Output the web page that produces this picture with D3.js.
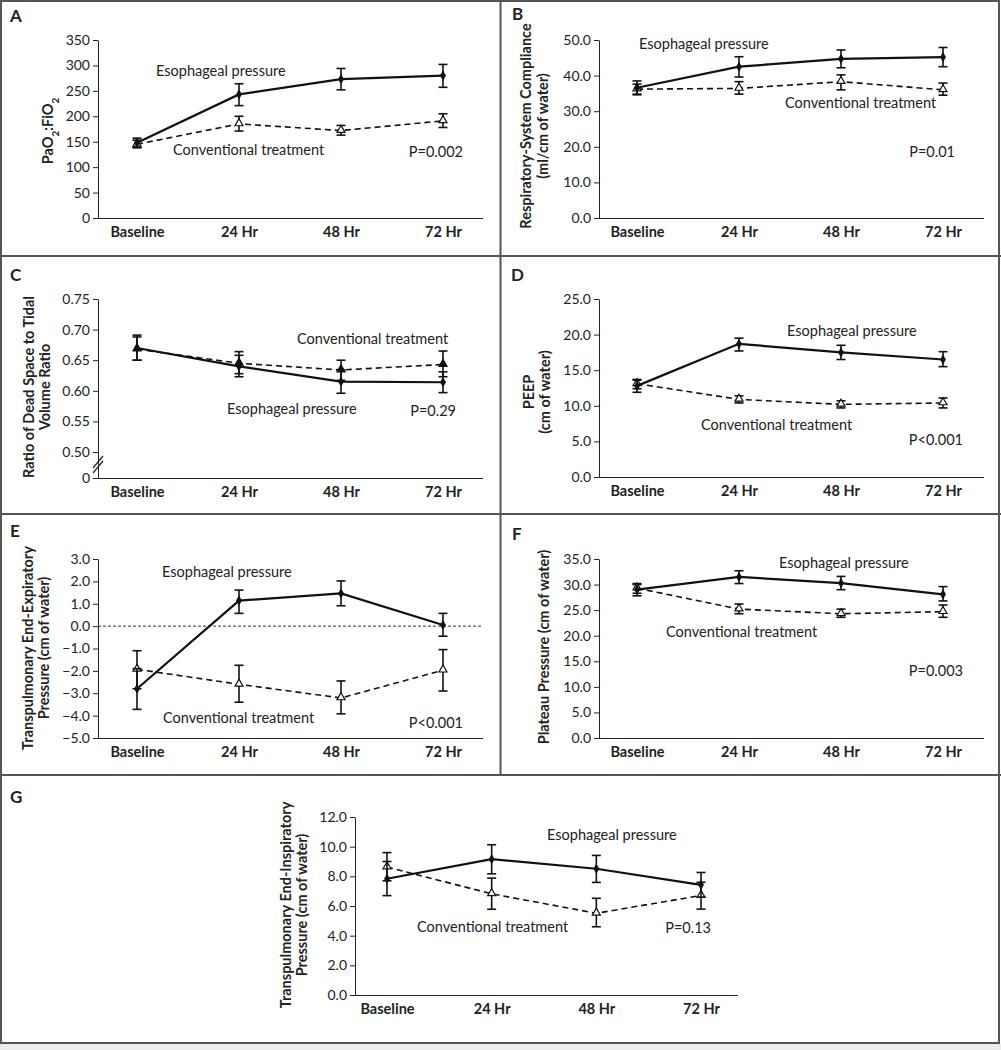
<!DOCTYPE html>
<html>
<head>
<meta charset="utf-8">
<script src="https://cdn.jsdelivr.net/npm/d3@7"></script>
<style>
  body { margin: 0; background: #fff; }
  svg { display: block; font-family: Lato, "Noto Sans", sans-serif; }
</style>
</head>
<body>
<div id="chart"></div>
<script>
var categories = ['Baseline', '24 Hr', '48 Hr', '72 Hr'];

// A - PaO2:FiO2
var pfEso = [148, 243, 273, 280];
var pfEsoLo = [139, 221, 252, 257];
var pfEsoHi = [157, 264, 294, 302];
var pfConv = [145, 185, 172, 191];
var pfConvLo = [138, 171, 163, 178];
var pfConvHi = [153, 200, 182, 205];
var pfTicks = [0, 50, 100, 150, 200, 250, 300, 350];

// B - compliance
var complEso = [36.6, 42.5, 44.7, 45.2];
var complEsoLo = [34.6, 39.6, 42.2, 42.5];
var complEsoHi = [38.5, 45.3, 47.2, 47.9];
var complConv = [36.2, 36.4, 38.3, 36.0];
var complConvLo = [34.8, 34.8, 36.0, 34.5];
var complConvHi = [37.6, 38.3, 40.2, 37.9];
var complTicks = [0, 10, 20, 30, 40, 50];

// C - dead space ratio
var dsEso = [0.670, 0.640, 0.615, 0.614];
var dsEsoLo = [0.650, 0.623, 0.596, 0.597];
var dsEsoHi = [0.691, 0.658, 0.634, 0.631];
var dsConv = [0.668, 0.645, 0.634, 0.643];
var dsConvLo = [0.650, 0.628, 0.617, 0.623];
var dsConvHi = [0.688, 0.664, 0.650, 0.665];
var dsTicks = [0, 0.50, 0.55, 0.60, 0.65, 0.70, 0.75];

// D - PEEP
var peepEso = [12.8, 18.7, 17.5, 16.5];
var peepEsoLo = [11.9, 17.7, 16.5, 15.5];
var peepEsoHi = [13.6, 19.5, 18.5, 17.6];
var peepConv = [13.1, 10.9, 10.2, 10.4];
var peepConvLo = [12.4, 10.4, 9.7, 9.7];
var peepConvHi = [13.7, 11.4, 10.7, 11.1];
var peepTicks = [0, 5, 10, 15, 20, 25];

// E - transpulmonary end-expiratory
var eeEso = [-2.8, 1.14, 1.46, 0.05];
var eeEsoLo = [-3.72, 0.57, 0.91, -0.45];
var eeEsoHi = [-1.9, 1.61, 2.02, 0.57];
var eeConv = [-1.93, -2.6, -3.21, -1.97];
var eeConvLo = [-2.8, -3.4, -3.92, -2.9];
var eeConvHi = [-1.1, -1.75, -2.45, -1.05];
var eeTicks = [-5, -4, -3, -2, -1, 0, 1, 2, 3];

// F - plateau pressure
var platEso = [29.0, 31.5, 30.3, 28.1];
var platEsoLo = [27.8, 30.2, 29.0, 26.8];
var platEsoHi = [30.2, 32.7, 31.6, 29.6];
var platConv = [29.3, 25.2, 24.3, 24.7];
var platConvLo = [28.3, 24.3, 23.6, 23.6];
var platConvHi = [30.0, 26.2, 25.2, 26.0];
var platTicks = [0, 5, 10, 15, 20, 25, 30, 35];

// G - transpulmonary end-inspiratory
var eiEso = [7.84, 9.16, 8.51, 7.43];
var eiEsoLo = [6.7, 8.17, 7.59, 6.6];
var eiEsoHi = [9.0, 10.13, 9.41, 8.26];
var eiConv = [8.63, 6.82, 5.51, 6.71];
var eiConvLo = [7.7, 5.78, 4.6, 5.79];
var eiConvHi = [9.6, 7.88, 6.52, 7.6];
var eiTicks = [0, 2, 4, 6, 8, 10, 12];

var width = 1001, height = 1050;
var svg = d3.select('#chart').append('svg').attr('width', width).attr('height', height);

// frame
svg.append('rect').attr('x', 0).attr('y', 1044).attr('width', width).attr('height', 6).attr('fill', '#ececec');
var frame = svg.append('g').attr('stroke', '#555').attr('stroke-width', 2).attr('fill', 'none');
frame.append('rect').attr('x', 1).attr('y', 1).attr('width', 998).attr('height', 1042);
frame.append('line').attr('x1', 500.5).attr('x2', 500.5).attr('y1', 0).attr('y2', 775);
[256, 514, 775].forEach(function(y) {
    frame.append('line').attr('x1', 0).attr('x2', width).attr('y1', y).attr('y2', y);
});

function rows(vals, lo, hi) {
    return vals.map(function(v, i) { return {cat: categories[i], v: v, lo: lo[i], hi: hi[i]}; });
}

function drawPanel(p) {
    var g = svg.append('g');
    var x = d3.scalePoint().domain(categories).range([p.catLeft, p.catRight]);
    var y = d3.scaleLinear().domain(p.domain).range(p.range);

    g.append('text').attr('x', p.letter[0]).attr('y', p.letter[1])
        .attr('font-size', 17).attr('font-weight', 'bold').attr('fill', '#222').text(p.name);

    var yAxis = d3.axisLeft(y).tickValues(p.ticks).tickSize(5).tickPadding(3).tickSizeOuter(0)
        .tickFormat(p.fmt);
    var yg = g.append('g').attr('transform', 'translate(' + p.axisX + ',0)').call(yAxis)
        .attr('font-family', null).attr('font-size', 14);
    yg.selectAll('line,path').attr('stroke', '#222');
    yg.selectAll('text').attr('fill', '#222');

    var xAxis = d3.axisBottom(x).tickSize(0).tickPadding(9);
    var xg = g.append('g').attr('transform', 'translate(0,' + y(p.domain[0]) + ')').call(xAxis)
        .attr('font-family', null).attr('font-size', 14.5).attr('font-weight', 'bold');
    xg.select('.domain').attr('d', 'M' + p.axisX + ',0.5H' + p.axisRight).attr('stroke', '#222');
    xg.selectAll('text').attr('fill', '#222');

    if (p.zeroLine) {
        g.append('line').attr('x1', p.axisX).attr('x2', p.axisRight)
            .attr('y1', y(0)).attr('y2', y(0))
            .attr('stroke', '#333').attr('stroke-width', 1).attr('stroke-dasharray', '3,2');
    }
    if (p.axisBreak) {
        var yb = (y(0) + y(0.5)) / 2;
        [-3, 2].forEach(function(o) {
            g.append('line').attr('x1', p.axisX - 5).attr('x2', p.axisX + 5)
                .attr('y1', yb + o + 6).attr('y2', yb + o - 6)
                .attr('stroke', '#222').attr('stroke-width', 1.2);
        });
    }

    // y label
    var lab = g.append('text').attr('transform', 'translate(0,' + p.labelY + ') rotate(-90)')
        .attr('text-anchor', 'middle').attr('font-weight', 'bold').attr('font-size', 14.5).attr('fill', '#222');
    p.label.forEach(function(line, i) {
        var t = lab.append('tspan').attr('x', 0).attr('y', p.labelX[i]);
        if (typeof line === 'string') t.text(line);
        else line.forEach(function(part) {
            var s = t.append('tspan').text(part[0]);
            if (part[1]) s.attr('baseline-shift', 'sub').attr('font-size', 10);
        });
    });

    var line = d3.line().x(function(d) { return x(d.cat); }).y(function(d) { return y(d.v); });
    var series = [
        {data: rows(p.conv, p.convLo, p.convHi), dash: '6,4', width: 1.6, kind: 'conv'},
        {data: rows(p.eso, p.esoLo, p.esoHi), dash: null, width: 2.2, kind: 'eso'}
    ];
    series.forEach(function(s) {
        g.append('path').datum(s.data).attr('d', line).attr('fill', 'none')
            .attr('stroke', '#111').attr('stroke-width', s.width)
            .attr('stroke-dasharray', s.dash);
        var eb = g.append('g').attr('stroke', '#111').attr('stroke-width', 1.6);
        eb.selectAll('.v').data(s.data).enter().append('line')
            .attr('x1', function(d) { return x(d.cat); }).attr('x2', function(d) { return x(d.cat); })
            .attr('y1', function(d) { return y(d.lo); }).attr('y2', function(d) { return y(d.hi); });
        ['lo', 'hi'].forEach(function(k) {
            eb.selectAll('.c' + k).data(s.data).enter().append('line')
                .attr('x1', function(d) { return x(d.cat) - 4.5; }).attr('x2', function(d) { return x(d.cat) + 4.5; })
                .attr('y1', function(d) { return y(d[k]); }).attr('y2', function(d) { return y(d[k]); });
        });
        if (s.kind === 'eso') {
            g.selectAll(null).data(s.data).enter().append('path')
                .attr('d', d3.symbol(d3.symbolDiamond, 30))
                .attr('transform', function(d) { return 'translate(' + x(d.cat) + ',' + y(d.v) + ')'; })
                .attr('fill', '#111');
        } else {
            g.selectAll(null).data(s.data).enter().append('path')
                .attr('d', d3.symbol(d3.symbolTriangle, 28))
                .attr('transform', function(d) { return 'translate(' + x(d.cat) + ',' + (y(d.v) - 0.5) + ')'; })
                .attr('fill', p.filledConv ? '#111' : '#fff').attr('stroke', '#111').attr('stroke-width', 1.2);
        }
    });

    // annotations
    var ann = [
        {t: 'Esophageal pressure', x: p.esoText[0], y: p.esoText[1], a: 'start'},
        {t: 'Conventional treatment', x: p.convText[0], y: p.convText[1], a: 'start'},
        {t: p.pval, x: p.pText[0], y: p.pText[1], a: 'end'}
    ];
    g.selectAll(null).data(ann).enter().append('text')
        .attr('x', function(d) { return d.x; }).attr('y', function(d) { return d.y; })
        .attr('text-anchor', function(d) { return d.a; })
        .attr('font-size', 14.5).attr('fill', '#222')
        .text(function(d) { return d.t; });
}

var f1 = d3.format('.1f');

drawPanel({name: 'A', letter: [10, 22], axisX: 98, axisRight: 483, catLeft: 137, catRight: 443,
    domain: [0, 350], range: [218, 40], ticks: pfTicks, fmt: d3.format('d'),
    eso: pfEso, esoLo: pfEsoLo, esoHi: pfEsoHi, conv: pfConv, convLo: pfConvLo, convHi: pfConvHi,
    label: [[['PaO', 0], ['2', 1], [':FiO', 0], ['2', 1]]], labelX: [53], labelY: 131,
    esoText: [156, 76], convText: [173, 155], pText: [463, 157], pval: 'P=0.002'});

drawPanel({name: 'B', letter: [512, 20], axisX: 599, axisRight: 984, catLeft: 637, catRight: 943,
    domain: [0, 50], range: [218, 40], ticks: complTicks, fmt: f1,
    eso: complEso, esoLo: complEsoLo, esoHi: complEsoHi, conv: complConv, convLo: complConvLo, convHi: complConvHi,
    label: ['Respiratory-System Compliance', '(ml/cm of water)'], labelX: [531, 548], labelY: 126,
    esoText: [639, 49], convText: [785, 108], pText: [955, 157], pval: 'P=0.01'});

drawPanel({name: 'C', letter: [10, 281], axisX: 98, axisRight: 483, catLeft: 137, catRight: 443,
    domain: [0, 0.5, 0.75], range: [478, 452, 299], ticks: dsTicks,
    fmt: function(d) { return d === 0 ? '0' : d3.format('.2f')(d); }, axisBreak: true, filledConv: true,
    eso: dsEso, esoLo: dsEsoLo, esoHi: dsEsoHi, conv: dsConv, convLo: dsConvLo, convHi: dsConvHi,
    label: ['Ratio of Dead Space to Tidal', 'Volume Ratio'], labelX: [34, 50], labelY: 387,
    esoText: [227, 414], convText: [297, 344], pText: [456, 416], pval: 'P=0.29'});

drawPanel({name: 'D', letter: [511, 281], axisX: 599, axisRight: 984, catLeft: 637, catRight: 943,
    domain: [0, 25], range: [477, 299], ticks: peepTicks, fmt: f1,
    eso: peepEso, esoLo: peepEsoLo, esoHi: peepEsoHi, conv: peepConv, convLo: peepConvLo, convHi: peepConvHi,
    label: ['PEEP', '(cm of water)'], labelX: [534, 550], labelY: 392,
    esoText: [787, 336], convText: [701, 430], pText: [963, 445], pval: 'P<0.001'});

drawPanel({name: 'E', letter: [10, 537], axisX: 98, axisRight: 483, catLeft: 137, catRight: 443,
    domain: [-5, 3], range: [738, 559], ticks: eeTicks, fmt: function(d) { return f1(d).replace('-', '\u2212'); },
    zeroLine: true,
    eso: eeEso, esoLo: eeEsoLo, esoHi: eeEsoHi, conv: eeConv, convLo: eeConvLo, convHi: eeConvHi,
    label: ['Transpulmonary End-Expiratory', 'Pressure (cm of water)'], labelX: [33, 49], labelY: 648,
    esoText: [162, 577], convText: [163, 723], pText: [463, 728], pval: 'P<0.001'});

drawPanel({name: 'F', letter: [512, 540], axisX: 599, axisRight: 984, catLeft: 637, catRight: 943,
    domain: [0, 35], range: [738, 559], ticks: platTicks, fmt: f1,
    eso: platEso, esoLo: platEsoLo, esoHi: platEsoHi, conv: platConv, convLo: platConvLo, convHi: platConvHi,
    label: ['Plateau Pressure (cm of water)'], labelX: [549], labelY: 647,
    esoText: [779, 568], convText: [666, 637], pText: [963, 676], pval: 'P=0.003'});

drawPanel({name: 'G', letter: [10, 803], axisX: 355, axisRight: 738, catLeft: 387, catRight: 701,
    domain: [0, 12], range: [995, 817], ticks: eiTicks, fmt: f1,
    eso: eiEso, esoLo: eiEsoLo, esoHi: eiEsoHi, conv: eiConv, convLo: eiConvLo, convHi: eiConvHi,
    label: ['Transpulmonary End-Inspiratory', 'Pressure (cm of water)'], labelX: [291, 307], labelY: 905,
    esoText: [547, 840], convText: [417, 932], pText: [711, 933], pval: 'P=0.13'});
</script>
</body>
</html>
